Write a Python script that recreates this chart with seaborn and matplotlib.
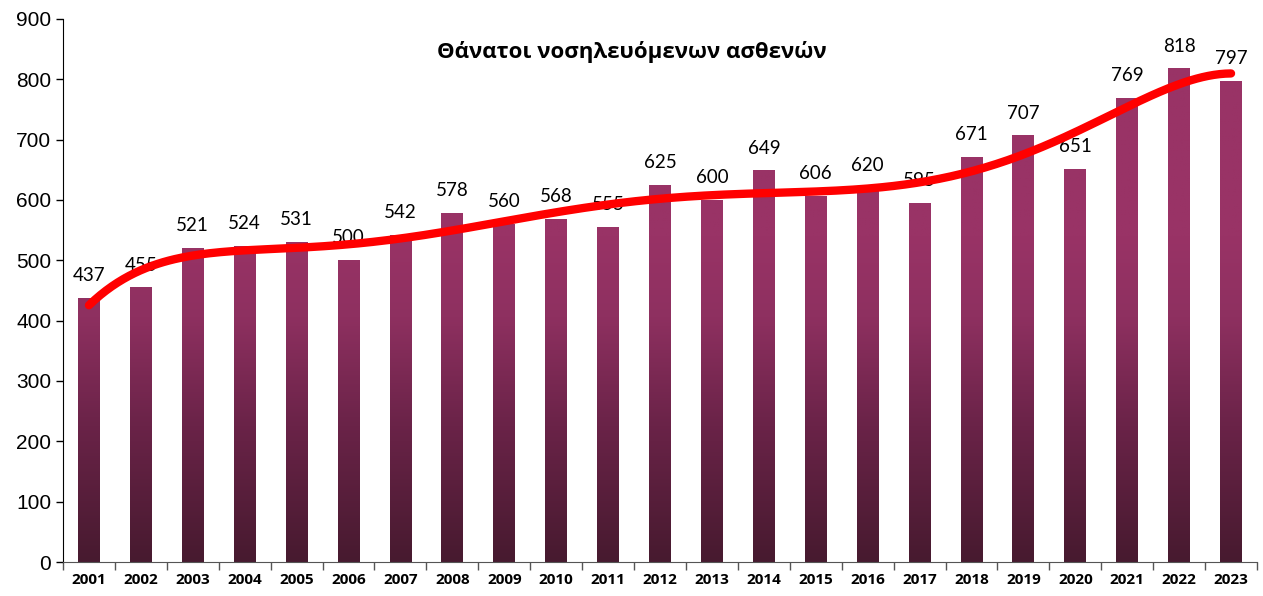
import numpy as np
import pandas as pd
import matplotlib
matplotlib.use("Agg")
import matplotlib.pyplot as plt
from matplotlib.colors import LinearSegmentedColormap
import seaborn as sns

# Data
years = [2001, 2002, 2003, 2004, 2005, 2006, 2007, 2008, 2009, 2010, 2011, 2012,
         2013, 2014, 2015, 2016, 2017, 2018, 2019, 2020, 2021, 2022, 2023]
deaths = [437, 455, 521, 524, 531, 500, 542, 578, 560, 568, 555, 625,
          600, 649, 606, 620, 595, 671, 707, 651, 769, 818, 797]
title = "Θάνατοι νοσηλευόμενων ασθενών"

df = pd.DataFrame({"year": [str(y) for y in years], "deaths": deaths})

sns.set_style("white")
plt.rcParams["font.family"] = ["Lato", "DejaVu Sans"]
plt.rcParams["text.color"] = "black"
plt.rcParams["xtick.color"] = "black"
plt.rcParams["ytick.color"] = "black"

fig = plt.figure(figsize=(12.63, 5.96), dpi=100)
ax = fig.add_axes([63 / 1263, 1 - 562 / 596, (1257 - 63) / 1263, (562 - 19) / 596])

sns.barplot(data=df, x="year", y="deaths", color="#993366", width=0.42, ax=ax,
            saturation=1)

# vertical gradient fill (dark at the bottom, plum from ~400 upward)
cmap = LinearSegmentedColormap.from_list(
    "plum", [(0, "#471a2f"), (0.25, "#6a2348"), (0.45, "#8e3060"), (0.6, "#993366"), (1, "#993366")])
grad = np.linspace(0, 1, 256).reshape(-1, 1)
for p in ax.patches:
    x0, w = p.get_x(), p.get_width()
    im = ax.imshow(grad, cmap=cmap, aspect="auto", origin="lower",
                   extent=[x0, x0 + w, 0, 900], zorder=p.get_zorder())
    im.set_clip_path(p)
    p.set_facecolor("none")
    p.set_edgecolor("none")

# polynomial trend line (order 6, as Excel draws it)
xi = np.arange(len(years))
coef = np.polyfit(xi + 1, deaths, 6)
xs = np.linspace(0, len(years) - 1, 400)
ax.plot(xs, np.polyval(coef, xs + 1), color="#ff0000", lw=6, solid_capstyle="round", zorder=5)

# value labels above bars
for i, v in enumerate(deaths):
    ax.annotate(str(v), (i, v), xytext=(0, 10), textcoords="offset points",
                ha="center", va="bottom", fontsize=13.5, color="black", zorder=4)

ax.text(0.476, 0.96, title, transform=ax.transAxes, ha="center", va="top", color="black",
        fontsize=16, fontweight="bold", family=["Open Sans", "DejaVu Sans"], zorder=6)

ax.set_xlim(-0.5, len(years) - 0.5)
ax.set_ylim(0, 900)
ax.set_yticks(range(0, 901, 100))
ax.set_xlabel("")
ax.set_ylabel("")
ax.tick_params(axis="y", labelsize=15, length=5, width=1, color="black", labelcolor="black",
               direction="out", left=True)
for lab in ax.get_yticklabels():
    lab.set_fontfamily(["Liberation Sans", "DejaVu Sans"])
ax.set_xticks(xi)
ax.set_xticklabels([str(y) for y in years], fontsize=11, fontweight="bold",
                   family=["Open Sans", "DejaVu Sans"])
ax.tick_params(axis="x", length=0, pad=8, labelcolor="black")
ax.set_xticks(np.arange(-0.5, len(years), 1), minor=True)
ax.tick_params(axis="x", which="minor", length=6, width=1, color="#555555", bottom=True)

sns.despine(ax=ax)
ax.spines["left"].set_color("black")
ax.spines["bottom"].set_color("#555555")

fig.savefig("out.png", dpi=100)
